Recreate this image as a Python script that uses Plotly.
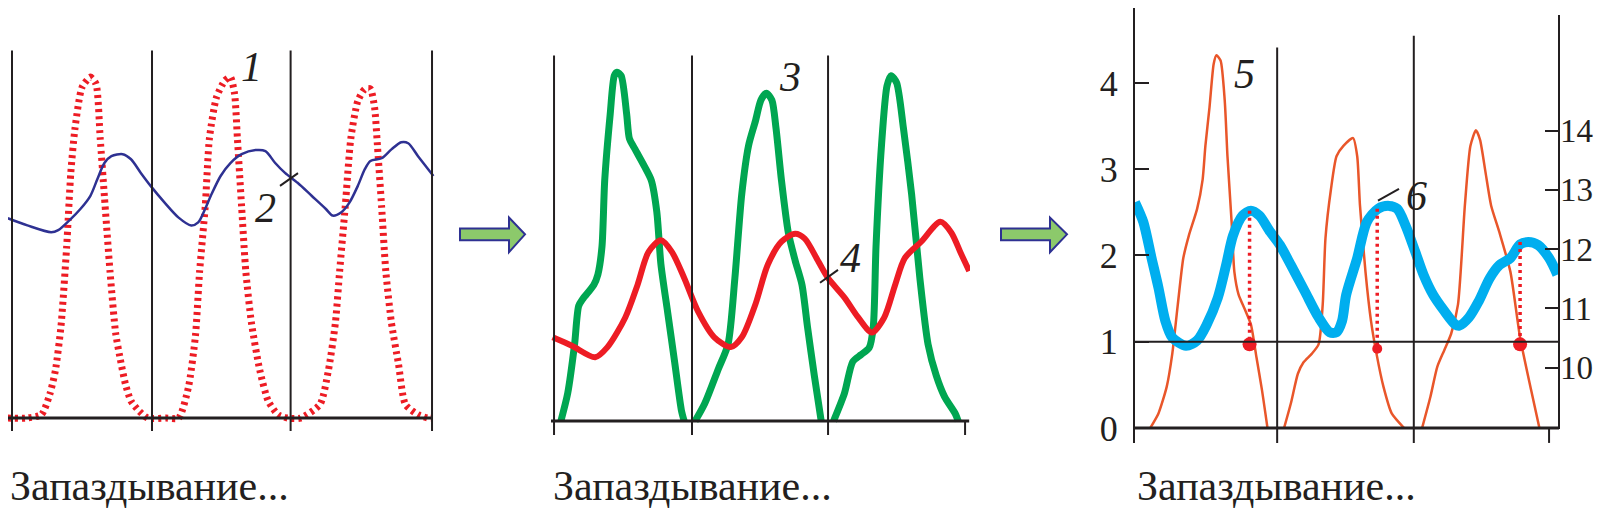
import plotly.graph_objects as go

W, H = 1606, 519
INK = '#231f20'
SERIF = '"Liberation Serif", "Times New Roman", Times, "DejaVu Serif", serif'

# ---- panel 1: input pulses (1) and response (2), time in periods ----
red1_t = [-0.03, 0.1, 0.21, 0.27, 0.31, 0.35, 0.39, 0.42, 0.45, 0.5, 0.56, 0.6, 0.63, 0.66, 0.7, 0.74, 0.77, 0.81, 0.85, 0.91, 0.97,
          1.1, 1.19, 1.26, 1.31, 1.34, 1.38, 1.41, 1.46, 1.52, 1.56, 1.59, 1.61, 1.64, 1.67, 1.71, 1.77, 1.83, 1.9, 1.97,
          2.06, 2.2, 2.26, 2.31, 2.34, 2.38, 2.42, 2.47, 2.52, 2.56, 2.59, 2.61, 2.64, 2.67, 2.71, 2.76, 2.81, 2.9, 2.97, 3.0]
red1_v = [0, 0, 0.01, 0.07, 0.14, 0.27, 0.5, 0.72, 0.85, 0.97, 1.0, 0.98, 0.82, 0.65, 0.43, 0.25, 0.18, 0.1, 0.05, 0.02, 0,
          0, 0, 0.09, 0.24, 0.43, 0.62, 0.82, 0.94, 0.99, 1.0, 0.95, 0.82, 0.62, 0.43, 0.28, 0.14, 0.05, 0.01, 0,
          0, 0.04, 0.14, 0.28, 0.43, 0.62, 0.82, 0.93, 0.965, 0.965, 0.91, 0.8, 0.62, 0.43, 0.28, 0.16, 0.04, 0.01, 0, 0]

blue2_t = [-0.03, 0.11, 0.28, 0.33, 0.41, 0.49, 0.56, 0.61, 0.66, 0.71, 0.79, 0.85, 0.92, 0.99, 1.09, 1.19, 1.28, 1.33, 1.38, 1.42,
           1.49, 1.56, 1.64, 1.74, 1.81, 1.88, 1.95, 2.04, 2.14, 2.24, 2.29, 2.35, 2.41, 2.47, 2.52, 2.56, 2.64, 2.71, 2.78, 2.83, 2.9, 3.01]
blue2_v = [0.586, 0.565, 0.545, 0.551, 0.58, 0.614, 0.652, 0.701, 0.748, 0.768, 0.774, 0.759, 0.719, 0.681, 0.632, 0.588, 0.565, 0.574, 0.614, 0.652,
           0.71, 0.748, 0.774, 0.786, 0.783, 0.748, 0.719, 0.69, 0.652, 0.614, 0.594, 0.603, 0.632, 0.681, 0.73, 0.754, 0.762, 0.788, 0.809, 0.806, 0.768, 0.71]

# ---- panel 2: curves 3 and 4 ----
green3_t = [0.05, 0.1, 0.15, 0.18, 0.21, 0.29, 0.32, 0.35, 0.37, 0.41, 0.44, 0.46, 0.49, 0.53, 0.55, 0.59, 0.66, 0.71, 0.75, 0.78, 0.83, 0.88, 0.93, 0.95, None,
            1.03, 1.1, 1.2, 1.27, 1.32, 1.37, 1.42, 1.47, 1.51, 1.55, 1.59, 1.62, 1.66, 1.71, 1.76, 1.81, 1.85, 1.9, 1.95, None,
            2.04, 2.12, 2.18, 2.24, 2.3, 2.33, 2.35, 2.39, 2.43, 2.46, 2.5, 2.55, 2.61, 2.67, 2.73, 2.79, 2.85, 2.93, 2.95]
green3_v = [0, 0.08, 0.22, 0.33, 0.35, 0.39, 0.42, 0.5, 0.69, 0.88, 0.99, 1.0, 0.99, 0.88, 0.81, 0.78, 0.73, 0.69, 0.6, 0.45, 0.31, 0.17, 0.03, 0, None,
            0, 0.05, 0.15, 0.22, 0.41, 0.65, 0.79, 0.86, 0.92, 0.94, 0.92, 0.84, 0.69, 0.54, 0.46, 0.39, 0.27, 0.13, 0, None,
            0, 0.08, 0.17, 0.19, 0.21, 0.27, 0.5, 0.79, 0.96, 0.99, 0.97, 0.84, 0.65, 0.41, 0.22, 0.13, 0.07, 0.02, 0]

red4_t = [-0.01, 0.13, 0.3, 0.39, 0.52, 0.61, 0.69, 0.78, 0.86, 0.95, 1.05, 1.17, 1.29, 1.37, 1.47, 1.56, 1.66, 1.76, 1.83, 1.93,
          2.0, 2.12, 2.22, 2.32, 2.41, 2.49, 2.56, 2.68, 2.82, 2.9, 2.97, 3.03]
red4_v = [0.24, 0.216, 0.183, 0.212, 0.297, 0.391, 0.485, 0.518, 0.485, 0.41, 0.315, 0.24, 0.212, 0.24, 0.335, 0.448, 0.514, 0.537, 0.523, 0.457,
          0.41, 0.354, 0.297, 0.254, 0.297, 0.391, 0.467, 0.514, 0.571, 0.54, 0.48, 0.43]

# ---- panel 3: curve 5 (left scale) and curve 6 (right scale) ----
orange5_t = [0.11, 0.17, 0.23, 0.27, 0.31, 0.35, 0.39, 0.45, 0.49, 0.51, 0.54, 0.57, 0.59, 0.62, 0.65, 0.67, 0.7, 0.72, 0.75, 0.8, 0.84, 0.88, 0.92, 0.96, None,
             1.08, 1.13, 1.18, 1.22, 1.28, 1.33, 1.36, 1.38, 1.42, 1.46, 1.51, 1.58, 1.61, 1.63, 1.67, 1.71, 1.75, 1.8, 1.86, 1.95, None,
             2.08, 2.14, 2.19, 2.24, 2.29, 2.34, 2.39, 2.43, 2.47, 2.5, 2.54, 2.58, 2.64, 2.72, 2.79, 2.87, 2.93]
orange5_v = [0, 0.17, 0.48, 0.86, 1.43, 1.97, 2.23, 2.54, 2.88, 3.27, 3.72, 4.22, 4.32, 4.26, 3.8, 3.15, 2.39, 1.81, 1.55, 1.36, 1.2, 0.82, 0.44, 0, None,
             0, 0.29, 0.63, 0.76, 0.86, 0.97, 1.43, 2.2, 2.77, 3.15, 3.27, 3.36, 3.15, 2.58, 1.81, 1.24, 0.86, 0.48, 0.17, 0, None,
             0, 0.36, 0.71, 0.9, 1.09, 1.43, 2.58, 3.27, 3.45, 3.34, 2.96, 2.58, 2.27, 1.81, 1.05, 0.44, 0]

cyan6_t = [0.0, 0.06, 0.12, 0.17, 0.22, 0.27, 0.37, 0.45, 0.52, 0.6, 0.66, 0.71, 0.78, 0.84, 0.9, 0.98, 1.05, 1.13, 1.23, 1.33,
           1.41, 1.46, 1.5, 1.53, 1.61, 1.68, 1.76, 1.84, 1.9, 1.96, 2.03, 2.09, 2.16, 2.24, 2.32, 2.35, 2.42, 2.49, 2.57, 2.64,
           2.72, 2.79, 2.85, 2.92, 3.0, 3.06]
cyan6_w = [12.79, 12.46, 11.85, 11.35, 10.79, 10.51, 10.37, 10.46, 10.73, 11.18, 11.73, 12.23, 12.57, 12.65, 12.57, 12.29, 12.07, 11.73, 11.29, 10.85,
           10.6, 10.6, 10.79, 11.23, 11.85, 12.46, 12.68, 12.73, 12.68, 12.4, 11.96, 11.57, 11.23, 10.96, 10.73, 10.71, 10.85, 11.12, 11.51, 11.73,
           11.85, 12.08, 12.12, 12.07, 11.85, 11.57]

delay_t = [0.83, 1.755, 2.79]
delay_top = [12.65, 12.68, 12.12]      # right scale
delay_bottom = [10.4, 10.32, 10.4]     # right scale
dot_level = [0.97, 0.92, 0.97]         # left scale
dot_size = [14, 10, 14]

left_ticks = [0, 1, 2, 3, 4]
right_ticks = [10, 11, 12, 13, 14]

# period marks of each panel
marks1 = [0, 1.0, 1.99, 3.0]
marks2 = [0, 1.007, 2.0]
marks3 = [1.03, 2.02]
marks3_top = [40, 28]


def px(x):
    return x / W


def py(y):
    return 1 - y / H


def dom_x(a, b):
    return [px(a), px(b)]


def dom_y(top, bottom):
    return [py(bottom), py(top)]


fig = go.Figure()

fig.add_trace(go.Scatter(x=red1_t, y=red1_v, xaxis='x', yaxis='y', mode='lines',
                         line=dict(color='#ed1c24', width=7, dash='3px,4px', shape='spline', smoothing=0.6)))
fig.add_trace(go.Scatter(x=blue2_t, y=blue2_v, xaxis='x', yaxis='y', mode='lines',
                         line=dict(color='#2e3192', width=2.5, shape='spline', smoothing=0.8)))

fig.add_trace(go.Scatter(x=green3_t, y=green3_v, xaxis='x2', yaxis='y2', mode='lines',
                         line=dict(color='#00a651', width=7, shape='spline', smoothing=0.7)))
fig.add_trace(go.Scatter(x=red4_t, y=red4_v, xaxis='x2', yaxis='y2', mode='lines',
                         line=dict(color='#ed1c24', width=6, shape='spline', smoothing=0.8)))

fig.add_trace(go.Scatter(x=orange5_t, y=orange5_v, xaxis='x3', yaxis='y3', mode='lines',
                         line=dict(color='#e9562a', width=2.5, shape='spline', smoothing=0.6)))
fig.add_trace(go.Scatter(x=cyan6_t, y=cyan6_w, xaxis='x3', yaxis='y4', mode='lines',
                         line=dict(color='#00aeef', width=10, shape='spline', smoothing=0.8)))

dx, dy = [], []
for t, a, b in zip(delay_t, delay_top, delay_bottom):
    dx += [t, t, None]
    dy += [a, b, None]
fig.add_trace(go.Scatter(x=dx, y=dy, xaxis='x3', yaxis='y4', mode='lines',
                         line=dict(color='#ed1c24', width=3.5, dash='3px,4px')))
fig.add_trace(go.Scatter(x=delay_t, y=dot_level, xaxis='x3', yaxis='y3', mode='markers',
                         marker=dict(color='#ed1c24', size=dot_size, opacity=1, line=dict(width=0)),
                         cliponaxis=False))

shapes = []


def vline(xref, x, top, bottom, w=2):
    shapes.append(dict(type='line', xref=xref, yref='paper', x0=x, x1=x, y0=py(bottom), y1=py(top),
                       line=dict(color=INK, width=w)))


for m in marks1:
    vline('x', m, 43, 428)
for m in marks2:
    vline('x2', m, 48, 432)
vline('x2', 3.0, 418, 432)
for m, top in zip(marks3, marks3_top):
    vline('x3', m, top, 440)
vline('x3', 3.0, 425, 440)
# right axis line of panel 3
shapes.append(dict(type='line', xref='x3 domain', yref='paper', x0=1, x1=1, y0=py(426), y1=py(7),
                   line=dict(color=INK, width=2)))

# baselines
shapes.append(dict(type='line', xref='x', yref='y', x0=-0.0286, x1=3.0, y0=0, y1=0, line=dict(color=INK, width=3)))
shapes.append(dict(type='line', xref='x2', yref='y2', x0=-0.022, x1=3.03, y0=0, y1=0, line=dict(color=INK, width=3)))
shapes.append(dict(type='line', xref='x3 domain', yref='y3', x0=0, x1=1, y0=0, y1=0, line=dict(color=INK, width=3)))
shapes.append(dict(type='line', xref='x3 domain', yref='y3', x0=0, x1=1, y0=1, y1=1, line=dict(color=INK, width=2)))


def arrow(x0, x1, xh, yc):
    pts = [(x0, yc - 6), (xh, yc - 6), (xh, yc - 17), (x1, yc), (xh, yc + 18), (xh, yc + 6), (x0, yc + 6)]
    path = 'M ' + ' L '.join(f'{px(a):.5f},{py(b):.5f}' for a, b in pts) + ' Z'
    shapes.append(dict(type='path', xref='paper', yref='paper', path=path,
                       fillcolor='#8cc96b', line=dict(color='#2e3192', width=2)))


arrow(452, 517, 501, 229)
arrow(993, 1059, 1042, 229)

# leader ticks for curve labels
for (a, b, c, d) in [(272, 180, 290, 167), (812, 278, 830, 265), (1370, 195, 1391, 183)]:
    shapes.append(dict(type='line', xref='paper', yref='paper', x0=px(a), y0=py(b), x1=px(c), y1=py(d),
                       line=dict(color=INK, width=2)))

annotations = []
for text, x, y in [('1', 243, 60), ('2', 257, 202), ('3', 782, 70), ('4', 842, 253), ('5', 1236, 67), ('6', 1408, 190)]:
    annotations.append(dict(text=text, x=px(x), y=py(y), xref='paper', yref='paper', showarrow=False,
                            xanchor='center', yanchor='middle',
                            font=dict(family=SERIF, size=42, color=INK, style='italic')))
for x in [0, 543, 1127]:
    annotations.append(dict(text='Запаздывание...', x=px(x), y=py(484), xref='paper', yref='paper', showarrow=False,
                            xanchor='left', yanchor='middle', font=dict(family=SERIF, size=42, color=INK)))

hidden = dict(visible=False, fixedrange=True)
fig.update_layout(
    width=W, height=H,
    margin=dict(l=0, r=0, t=0, b=0),
    paper_bgcolor='white', plot_bgcolor='white',
    showlegend=False,
    font=dict(family=SERIF),
    xaxis=dict(domain=dom_x(0, 432), range=[-0.0286, 3.057], anchor='y', **hidden),
    yaxis=dict(domain=dom_y(43, 428), range=[-0.038, 1.078], anchor='x', **hidden),
    xaxis2=dict(domain=dom_x(540, 962), range=[-0.044, 3.036], anchor='y2', **hidden),
    yaxis2=dict(domain=dom_y(48, 432), range=[-0.04, 1.048], anchor='x2', **hidden),
    xaxis3=dict(domain=dom_x(1127, 1551), range=[0, 3.072], anchor='y3', **hidden),
    yaxis3=dict(domain=dom_y(0, 440), range=[-0.172, 4.868], anchor='x3',
                showline=True, linecolor=INK, linewidth=2, showgrid=False, zeroline=False,
                ticks='inside', ticklen=14, tickwidth=2, tickcolor=INK, tickvals=left_ticks,
                ticklabelstandoff=8, tickfont=dict(family=SERIF, size=36, color=INK)),
    yaxis4=dict(overlaying='y3', side='right', anchor='x3', range=[8.733, 16.067],
                showline=False, showgrid=False, zeroline=False,
                ticks='inside', ticklen=14, tickwidth=2, tickcolor=INK, tickvals=right_ticks,
                ticklabelstandoff=0, tickfont=dict(family=SERIF, size=33, color=INK)),
    shapes=shapes,
    annotations=annotations,
)

fig.write_html("out.html")
